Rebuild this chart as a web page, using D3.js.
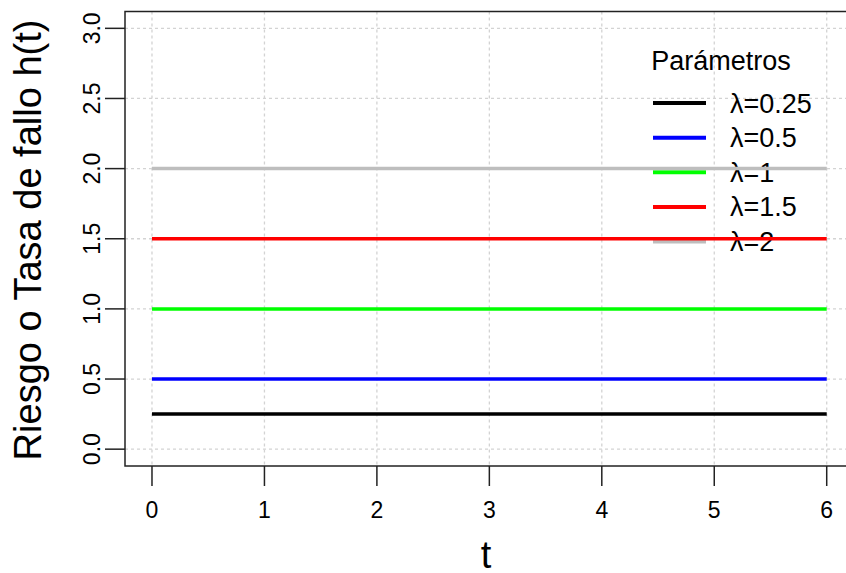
<!DOCTYPE html>
<html>
<head>
<meta charset="utf-8">
<script src="https://cdn.jsdelivr.net/npm/d3@7"></script>
<style>
    body { margin: 0; background: #fff; }
    svg { display: block; font-family: Arial, "Liberation Sans", sans-serif; }
</style>
</head>
<body>
<div id="chart"></div>
<script>
// lambda values (constant hazard h(t) = lambda)
let lambdas = [0.25, 0.5, 1, 1.5, 2];
let seriesLabels = ["λ=0.25", "λ=0.5", "λ=1", "λ=1.5", "λ=2"];
let seriesColors = ["#000000", "#0000ff", "#00ff00", "#ff0000", "#bebebe"];
let tPoints = [0, 6];
let xTicks = [0, 1, 2, 3, 4, 5, 6];
let yTicks = [0, 0.5, 1, 1.5, 2, 2.5, 3];
let yTickLabels = ["0.0", "0.5", "1.0", "1.5", "2.0", "2.5", "3.0"];

let width = 846, height = 573;
let box = {left: 125, right: 853.7, top: 11.5, bottom: 466};

let svg = d3.select("#chart")
    .append("svg")
    .attr("width", width)
    .attr("height", height);

let x = d3.scaleLinear().domain([-0.24, 6.24]).range([box.left, box.right]);
let y = d3.scaleLinear().domain([-0.12, 3.12]).range([box.bottom, box.top]);

// grid
svg.append("g").selectAll("line")
    .data(xTicks).enter().append("line")
    .attr("x1", d => x(d)).attr("x2", d => x(d))
    .attr("y1", box.top).attr("y2", box.bottom)
    .attr("stroke", "#d3d3d3").attr("stroke-width", 1.3)
    .attr("stroke-dasharray", "3,3");
svg.append("g").selectAll("line")
    .data(yTicks).enter().append("line")
    .attr("y1", d => y(d)).attr("y2", d => y(d))
    .attr("x1", box.left).attr("x2", box.right)
    .attr("stroke", "#d3d3d3").attr("stroke-width", 1.3)
    .attr("stroke-dasharray", "3,3");

// legend (drawn before the curves, as in the original)
let legend = svg.append("g");
legend.append("text")
    .attr("x", 721).attr("y", 70)
    .attr("text-anchor", "middle")
    .style("font-size", "27px")
    .text("Parámetros");
let rowY = d3.scaleLinear().domain([0, 4]).range([103, 241.5]);
let rows = legend.selectAll(".row")
    .data(lambdas).enter().append("g")
    .attr("class", "row");
rows.append("line")
    .attr("x1", 653).attr("x2", 706)
    .attr("y1", (d, i) => rowY(i)).attr("y2", (d, i) => rowY(i))
    .attr("stroke", (d, i) => seriesColors[i])
    .attr("stroke-width", 4);
rows.append("text")
    .attr("x", 730).attr("y", (d, i) => rowY(i) + 9.5)
    .style("font-size", "27px")
    .text((d, i) => seriesLabels[i]);

// curves
let line = d3.line()
    .x(d => x(d.t))
    .y(d => y(d.h));
svg.append("g").selectAll("path")
    .data(lambdas).enter().append("path")
    .attr("d", d => line(tPoints.map(t => ({t: t, h: d}))))
    .attr("fill", "none")
    .attr("stroke", (d, i) => seriesColors[i])
    .attr("stroke-width", 3.5);

// box
svg.append("rect")
    .attr("x", box.left).attr("y", box.top)
    .attr("width", box.right - box.left).attr("height", box.bottom - box.top)
    .attr("fill", "none").attr("stroke", "#222").attr("stroke-width", 1.5);

// x axis
let xAxis = svg.append("g").attr("transform", `translate(0,${box.bottom})`);
xAxis.selectAll("line")
    .data(xTicks).enter().append("line")
    .attr("x1", d => x(d)).attr("x2", d => x(d))
    .attr("y1", 0).attr("y2", 20)
    .attr("stroke", "#222").attr("stroke-width", 1.5);
xAxis.selectAll("text")
    .data(xTicks).enter().append("text")
    .attr("x", d => x(d)).attr("y", 52)
    .attr("text-anchor", "middle")
    .style("font-size", "23px")
    .text(d => d);

// y axis
let yAxis = svg.append("g").attr("transform", `translate(${box.left},0)`);
yAxis.selectAll("line")
    .data(yTicks).enter().append("line")
    .attr("y1", d => y(d)).attr("y2", d => y(d))
    .attr("x1", 0).attr("x2", -20)
    .attr("stroke", "#222").attr("stroke-width", 1.5);
yAxis.selectAll("text")
    .data(yTicks).enter().append("text")
    .attr("transform", d => `translate(-25,${y(d)}) rotate(-90)`)
    .attr("text-anchor", "middle")
    .style("font-size", "23px")
    .text((d, i) => yTickLabels[i]);

// axis titles
svg.append("text")
    .attr("x", 486).attr("y", 568)
    .attr("text-anchor", "middle")
    .style("font-size", "38px")
    .text("t");
svg.append("text")
    .attr("transform", `translate(41,240) rotate(-90)`)
    .attr("text-anchor", "middle")
    .style("font-size", "38px")
    .text("Riesgo o Tasa de fallo h(t)");
</script>
</body>
</html>
